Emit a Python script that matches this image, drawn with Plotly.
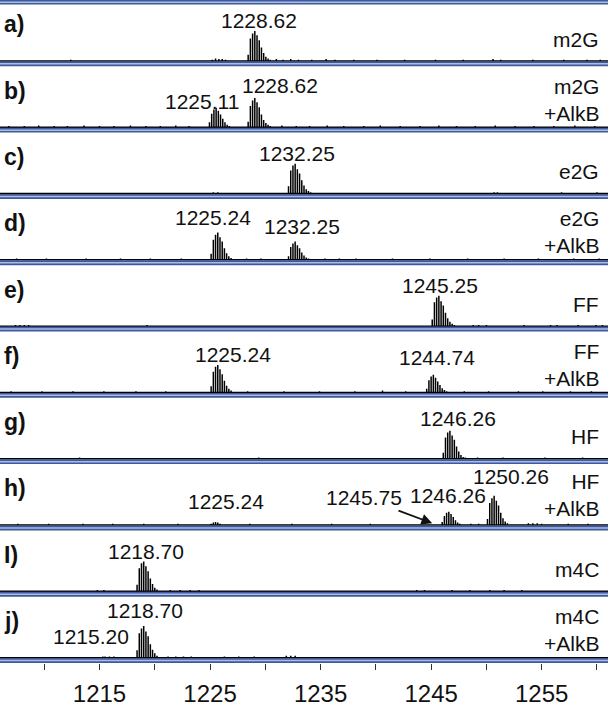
import plotly.graph_objects as go
from plotly.subplots import make_subplots

# ---------------- data ----------------
letters = ["a)", "b)", "c)", "d)", "e)", "f)", "g)", "h)", "I)", "j)"]
names = ["m2G", "m2G<br>+AlkB", "e2G", "e2G<br>+AlkB", "FF", "FF<br>+AlkB",
         "HF", "HF<br>+AlkB", "m4C", "m4C<br>+AlkB"]

# labelled peak values (m/z) per panel
peak_values = [
    [1228.62],
    [1225.11, 1228.62],
    [1232.25],
    [1225.24, 1232.25],
    [1245.25],
    [1225.24, 1244.74],
    [1246.26],
    [1225.24, 1246.26, 1250.26],
    [1218.70],
    [1215.20, 1218.70],
]
arrow_value = 1245.75  # panel h, arrow label

# isotope clusters (m/z, relative intensity)
mz_a0 = [1225.2, 1225.5, 1225.8, 1226.1, 1226.4]
in_a0 = [0.02, 0.04, 0.03, 0.03, 0.02]
mz_a1 = [1228.45, 1228.65, 1228.85, 1229.05, 1229.25, 1229.45, 1229.65, 1229.85, 1230.05, 1230.25, 1230.45]
in_a1 = [0.10, 0.37, 0.45, 0.49, 0.42, 0.34, 0.22, 0.13, 0.07, 0.04, 0.02]

mz_b1 = [1224.95, 1225.15, 1225.35, 1225.55, 1225.75, 1225.95, 1226.15, 1226.35, 1226.55, 1226.75]
in_b1 = [0.08, 0.22, 0.29, 0.32, 0.27, 0.21, 0.14, 0.08, 0.04, 0.02]
mz_b2 = [1228.45, 1228.65, 1228.85, 1229.05, 1229.25, 1229.45, 1229.65, 1229.85, 1230.05, 1230.25, 1230.45]
in_b2 = [0.09, 0.35, 0.44, 0.48, 0.41, 0.33, 0.21, 0.12, 0.07, 0.04, 0.02]

mz_c1 = [1232.1, 1232.3, 1232.5, 1232.7, 1232.9, 1233.1, 1233.3, 1233.5, 1233.7, 1233.9, 1234.1]
in_c1 = [0.12, 0.38, 0.46, 0.49, 0.40, 0.33, 0.22, 0.13, 0.07, 0.04, 0.02]

mz_d1 = [1225.1, 1225.3, 1225.5, 1225.7, 1225.9, 1226.1, 1226.3, 1226.5, 1226.7, 1226.9]
in_d1 = [0.10, 0.33, 0.41, 0.45, 0.37, 0.30, 0.19, 0.11, 0.06, 0.03]
mz_d2 = [1232.1, 1232.3, 1232.5, 1232.7, 1232.9, 1233.1, 1233.3, 1233.5, 1233.7, 1233.9]
in_d2 = [0.06, 0.21, 0.27, 0.30, 0.24, 0.19, 0.12, 0.07, 0.04, 0.02]

mz_e1 = [1245.1, 1245.3, 1245.5, 1245.7, 1245.9, 1246.1, 1246.3, 1246.5, 1246.7, 1246.9, 1247.1]
in_e1 = [0.11, 0.39, 0.47, 0.50, 0.41, 0.34, 0.22, 0.13, 0.07, 0.04, 0.02]

mz_f1 = [1225.1, 1225.3, 1225.5, 1225.7, 1225.9, 1226.1, 1226.3, 1226.5, 1226.7, 1226.9]
in_f1 = [0.10, 0.34, 0.42, 0.45, 0.38, 0.30, 0.19, 0.11, 0.06, 0.03]
mz_f2 = [1244.6, 1244.8, 1245.0, 1245.2, 1245.4, 1245.6, 1245.8, 1246.0, 1246.2, 1246.4]
in_f2 = [0.06, 0.20, 0.26, 0.29, 0.24, 0.18, 0.12, 0.07, 0.04, 0.02]

mz_g1 = [1246.1, 1246.3, 1246.5, 1246.7, 1246.9, 1247.1, 1247.3, 1247.5, 1247.7, 1247.9, 1248.1]
in_g1 = [0.10, 0.35, 0.43, 0.46, 0.38, 0.31, 0.20, 0.12, 0.06, 0.03, 0.02]

mz_h0 = [1225.1, 1225.3, 1225.5, 1225.7, 1225.9]
in_h0 = [0.02, 0.04, 0.05, 0.04, 0.02]
mz_h1 = [1246.0, 1246.2, 1246.4, 1246.6, 1246.8, 1247.0, 1247.2, 1247.4, 1247.6]
in_h1 = [0.05, 0.15, 0.20, 0.22, 0.18, 0.13, 0.08, 0.04, 0.02]
mz_h2 = [1250.1, 1250.3, 1250.5, 1250.7, 1250.9, 1251.1, 1251.3, 1251.5, 1251.7, 1251.9]
in_h2 = [0.10, 0.36, 0.44, 0.48, 0.40, 0.32, 0.20, 0.11, 0.06, 0.03]

mz_i1 = [1218.4, 1218.6, 1218.8, 1219.0, 1219.2, 1219.4, 1219.6, 1219.8, 1220.0, 1220.2]
in_i1 = [0.11, 0.38, 0.46, 0.49, 0.41, 0.33, 0.21, 0.12, 0.06, 0.03]

mz_j0 = [1215.1, 1215.3, 1215.5, 1215.7]
in_j0 = [0.01, 0.02, 0.02, 0.01]
mz_j1 = [1218.4, 1218.6, 1218.8, 1219.0, 1219.2, 1219.4, 1219.6, 1219.8, 1220.0, 1220.2]
in_j1 = [0.12, 0.40, 0.48, 0.52, 0.43, 0.35, 0.22, 0.13, 0.07, 0.03]

# baseline noise spikes per panel
noise_mz = [
    [1212.4, 1231.0, 1231.6, 1232.3, 1233.0, 1234.2, 1235.5, 1236.3, 1238.0, 1240.1, 1242.6, 1245.4, 1247.9, 1250.6, 1251.3, 1254.2, 1257.0, 1259.1, 1260.3],
    [1206.8, 1208.2, 1209.5, 1210.9, 1212.1, 1213.6, 1215.0, 1216.3, 1217.8, 1219.2, 1220.5, 1221.9, 1223.1, 1231.5, 1232.8, 1234.0, 1235.6, 1237.1, 1238.9, 1240.4, 1242.2, 1244.0, 1245.7, 1247.3, 1249.0, 1250.8, 1252.6, 1254.3, 1256.1, 1258.0, 1259.8],
    [1225.3, 1225.7, 1250.7, 1251.0, 1256.8, 1260.0],
    [1207.5, 1210.2, 1213.8, 1216.9, 1219.6, 1222.4, 1228.3, 1229.6, 1235.4, 1236.7, 1238.2, 1241.5, 1244.9, 1248.3, 1251.6, 1254.7, 1257.9, 1260.2],
    [1207.4, 1207.8, 1208.2, 1208.6, 1219.3, 1248.8, 1249.3, 1250.0, 1253.4, 1255.8, 1256.4, 1258.3, 1259.9, 1260.5],
    [1207.0, 1209.8, 1212.6, 1215.4, 1218.3, 1221.0, 1228.4, 1231.7, 1234.9, 1238.1, 1240.6, 1242.7, 1248.0, 1250.2, 1252.9, 1255.1, 1257.6, 1259.5],
    [1213.2, 1229.4, 1249.2, 1251.5, 1255.3, 1258.7],
    [1207.6, 1210.4, 1213.5, 1216.2, 1219.0, 1222.1, 1228.6, 1232.4, 1236.0, 1239.5, 1248.6, 1249.3, 1253.8, 1254.2, 1254.6, 1255.0, 1257.4, 1259.2],
    [1214.8, 1215.4, 1221.4, 1222.3, 1223.2, 1224.0, 1243.7, 1244.4, 1246.9, 1248.5, 1250.3, 1251.6, 1253.2],
    [1215.9, 1216.3, 1221.2, 1221.9, 1222.6, 1223.3, 1226.3, 1227.6, 1229.0, 1231.9, 1232.3, 1232.7],
]
noise_in = [
    [0.02, 0.03, 0.02, 0.03, 0.02, 0.02, 0.03, 0.02, 0.02, 0.02, 0.02, 0.02, 0.02, 0.03, 0.02, 0.02, 0.02, 0.02, 0.02],
    [0.02, 0.02, 0.03, 0.02, 0.02, 0.03, 0.02, 0.02, 0.03, 0.02, 0.02, 0.03, 0.02, 0.03, 0.02, 0.02, 0.03, 0.02, 0.02, 0.03, 0.02, 0.02, 0.03, 0.02, 0.02, 0.03, 0.02, 0.02, 0.02, 0.03, 0.02],
    [0.02, 0.02, 0.02, 0.02, 0.02, 0.02],
    [0.02, 0.02, 0.02, 0.02, 0.02, 0.02, 0.02, 0.02, 0.02, 0.02, 0.02, 0.02, 0.02, 0.02, 0.02, 0.02, 0.02, 0.02],
    [0.02, 0.02, 0.02, 0.02, 0.02, 0.02, 0.02, 0.02, 0.02, 0.02, 0.02, 0.02, 0.02, 0.02],
    [0.02, 0.02, 0.02, 0.02, 0.02, 0.02, 0.02, 0.02, 0.02, 0.02, 0.03, 0.02, 0.02, 0.02, 0.02, 0.02, 0.02, 0.02],
    [0.02, 0.02, 0.02, 0.02, 0.02, 0.02],
    [0.02, 0.02, 0.02, 0.02, 0.02, 0.02, 0.02, 0.02, 0.02, 0.02, 0.02, 0.02, 0.03, 0.03, 0.03, 0.02, 0.02, 0.02],
    [0.02, 0.02, 0.02, 0.02, 0.02, 0.02, 0.02, 0.02, 0.02, 0.02, 0.02, 0.02, 0.02],
    [0.02, 0.02, 0.02, 0.02, 0.02, 0.02, 0.02, 0.02, 0.02, 0.03, 0.03, 0.03],
]

panel_clusters = [
    [(mz_a0, in_a0), (mz_a1, in_a1)],
    [(mz_b1, in_b1), (mz_b2, in_b2)],
    [(mz_c1, in_c1)],
    [(mz_d1, in_d1), (mz_d2, in_d2)],
    [(mz_e1, in_e1)],
    [(mz_f1, in_f1), (mz_f2, in_f2)],
    [(mz_g1, in_g1)],
    [(mz_h0, in_h0), (mz_h1, in_h1), (mz_h2, in_h2)],
    [(mz_i1, in_i1)],
    [(mz_j0, in_j0), (mz_j1, in_j1)],
]

x_ticks = [1210, 1215, 1220, 1225, 1230, 1235, 1240, 1245, 1250, 1255, 1260]
x_tick_labels = ["", "1215", "", "1225", "", "1235", "", "1245", "", "1255", ""]

# ---------------- layout constants ----------------
X_RANGE = [1206.0, 1261.0]
Y_RANGE = [-0.088, 1.0]
W, H = 608, 707
MB = 29
PH = H - MB
N = 10
ROW_PX = PH / N
FONT = "Liberation Sans, Arial, sans-serif"

# label placements (x center in m/z, y in panel units), aligned with peak_values
label_pos = [
    [(1229.4, 0.66)],
    [(1224.3, 0.42), (1231.3, 0.68)],
    [(1232.9, 0.66)],
    [(1225.3, 0.70), (1233.3, 0.55)],
    [(1245.8, 0.66)],
    [(1227.1, 0.62), (1245.5, 0.58)],
    [(1247.4, 0.66)],
    [(1226.4, 0.38), (1246.5, 0.49), (1252.2, 0.80)],
    [(1219.2, 0.66)],
    [(1214.2, 0.35), (1219.1, 0.77)],
]
name_y = [0.36, 0.45, 0.36, 0.45, 0.36, 0.45, 0.36, 0.50, 0.36, 0.45]

fig = make_subplots(rows=N, cols=1, shared_xaxes=True, vertical_spacing=0)

for i in range(N):
    sticks = []
    for mzs, ins in panel_clusters[i]:
        sticks += list(zip(mzs, ins))
    sticks += list(zip(noise_mz[i], noise_in[i]))
    sticks.sort()
    xs = [X_RANGE[0]]
    ys = [0.0]
    for m, v in sticks:
        xs += [m, m, m]
        ys += [0.0, v, 0.0]
    xs.append(X_RANGE[1])
    ys.append(0.0)
    fig.add_trace(go.Scatter(x=xs, y=ys, mode="lines",
                             line=dict(color="#000000", width=1.5),
                             hoverinfo="skip", showlegend=False),
                  row=i + 1, col=1)

for r in range(1, N + 1):
    suffix = "" if r == 1 else str(r)
    fig.update_layout(**{
        f"xaxis{suffix}": dict(range=X_RANGE, showgrid=False, zeroline=False,
                               showline=False, showticklabels=False, ticks=""),
        f"yaxis{suffix}": dict(range=Y_RANGE, showgrid=False, zeroline=False,
                               showline=False, showticklabels=False, ticks=""),
    })

fig.update_layout(**{
    f"xaxis{N}": dict(range=X_RANGE, showgrid=False, zeroline=False, showline=False,
                      tickmode="array", tickvals=x_ticks, ticktext=x_tick_labels,
                      ticks="outside", ticklen=6, tickwidth=1, tickcolor="#333333",
                      ticklabelstandoff=3,
                      tickfont=dict(family=FONT, size=24, color="#111111"),
                      showticklabels=True)
})

# separator bands
shapes = []
def paper_y(px):
    return 1 - px / PH

bands = [(0.0, 4.5)] + [(ROW_PX * k - 5.0, ROW_PX * k) for k in range(1, N + 1)]
for top, bot in bands:
    shapes.append(dict(type="rect", xref="paper", yref="paper", x0=0, x1=1,
                       y0=paper_y(bot), y1=paper_y(top),
                       fillcolor="#40599a", line=dict(width=0), layer="above"))
    mid = (top + bot) / 2
    shapes.append(dict(type="line", xref="paper", yref="paper", x0=0, x1=1,
                       y0=paper_y(mid), y1=paper_y(mid),
                       line=dict(color="#a9bde8", width=1.5), layer="above"))

annotations = []
for i in range(N):
    r = i + 1
    xr = "x" if r == 1 else f"x{r}"
    yr = "y" if r == 1 else f"y{r}"
    annotations.append(dict(text=f"<b>{letters[i]}</b>", xref="paper", yref=yr,
                            x=0.004, y=0.6, xanchor="left", yanchor="middle",
                            showarrow=False,
                            font=dict(family=FONT, size=23, color="#111111")))
    annotations.append(dict(text=names[i], xref="paper", yref=yr,
                            x=0.988, y=name_y[i], xanchor="right", yanchor="middle",
                            align="right", showarrow=False,
                            font=dict(family=FONT, size=21, color="#111111")))
    for v, (lx, ly) in zip(peak_values[i], label_pos[i]):
        annotations.append(dict(text=f"{v:.2f}", xref=xr, yref=yr, x=lx, y=ly,
                                xanchor="center", yanchor="middle", showarrow=False,
                                font=dict(family=FONT, size=21, color="#111111")))

# arrow label in panel h
annotations.append(dict(text=f"{arrow_value:.2f}", xref="x8", yref="y8",
                        x=1245.1, y=0.03, axref="x8", ayref="y8",
                        ax=1238.9, ay=0.45, showarrow=True,
                        arrowhead=2, arrowsize=1.2, arrowwidth=1.8, arrowcolor="#111111",
                        font=dict(family=FONT, size=21, color="#111111")))

fig.update_layout(width=W, height=H, margin=dict(l=0, r=0, t=0, b=MB),
                  paper_bgcolor="white", plot_bgcolor="white",
                  shapes=shapes, annotations=annotations, showlegend=False)

fig.write_html("out.html", config={"displayModeBar": False},
               post_script="document.body.style.margin='0px';")
